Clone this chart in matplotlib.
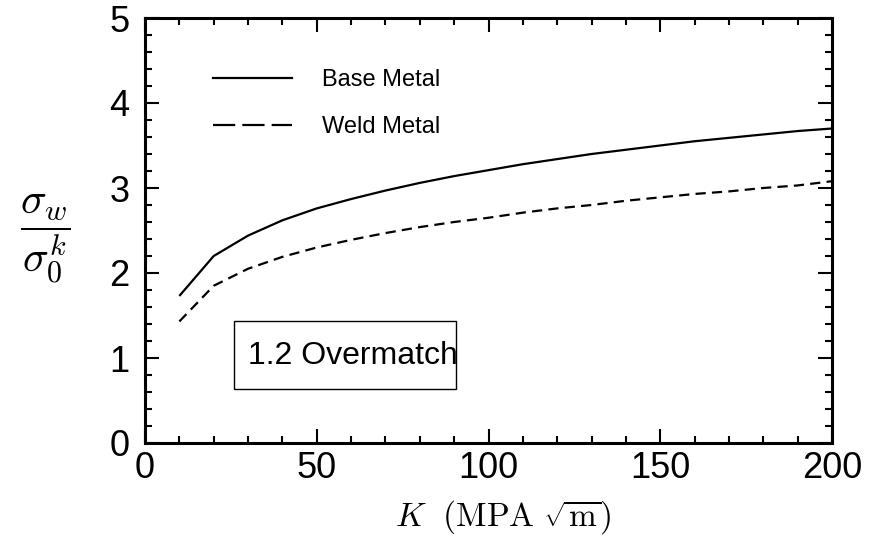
import matplotlib
matplotlib.use("Agg")
import matplotlib.pyplot as plt
from matplotlib.lines import Line2D
from matplotlib.patches import Rectangle
from matplotlib.ticker import MultipleLocator

plt.rcParams['font.family'] = ['Liberation Sans', 'DejaVu Sans']
plt.rcParams['mathtext.fontset'] = 'cm'

K = [10, 20, 30, 40, 50, 60, 70, 80, 90, 100, 110, 120, 130, 140, 150, 160, 170, 180, 190, 200]
base_metal = [1.73, 2.20, 2.44, 2.62, 2.76, 2.87, 2.97, 3.06, 3.14, 3.21, 3.28, 3.34, 3.40, 3.45,
              3.50, 3.55, 3.59, 3.63, 3.67, 3.70]
weld_metal = [1.43, 1.85, 2.05, 2.19, 2.30, 2.39, 2.47, 2.54, 2.60, 2.65, 2.71, 2.76, 2.80, 2.85,
              2.89, 2.93, 2.96, 3.00, 3.03, 3.08]
labels = ["Base Metal", "Weld Metal"]
annotation = "1.2 Overmatch"

fig = plt.figure(figsize=(8.8, 5.44), dpi=100)
ax = fig.add_axes([145/880, 101/544, 687/880, 425/544])

ax.plot(K, base_metal, color='black', lw=1.6, solid_capstyle='butt')
ax.plot(K, weld_metal, color='black', lw=1.6, dashes=(4.6, 2.8))

ax.set_xlim(0, 200)
ax.set_ylim(0, 5)
ax.xaxis.set_major_locator(MultipleLocator(50))
ax.xaxis.set_minor_locator(MultipleLocator(10))
ax.yaxis.set_major_locator(MultipleLocator(1))
ax.yaxis.set_minor_locator(MultipleLocator(0.2))
ax.tick_params(which='both', direction='in', top=True, right=True, width=1.5, labelsize=26)
ax.tick_params(axis='x', which='major', length=10, pad=6)
ax.tick_params(axis='y', which='major', length=10, pad=11)
ax.tick_params(which='minor', length=5)
for s in ax.spines.values():
    s.set_linewidth(2.2)

ax.set_xlabel(r"$K\ \ (\mathrm{MPA}\ \sqrt{\mathrm{m}})$", fontsize=24)
ax.xaxis.set_label_coords(0.522, -0.13)
ax.set_ylabel(r"$\dfrac{\sigma_w}{\sigma_0^k}$", fontsize=31, rotation=0, va='center', ha='center')
ax.yaxis.set_label_coords(-0.145, 0.48)

handles = [Line2D([], [], color='black', lw=1.6),
           Line2D([], [], color='black', lw=1.6, dashes=(10.0, 3.2))]
ax.legend(handles, labels, loc='upper left', bbox_to_anchor=(0.0675, 0.93), frameon=False,
          fontsize=17, handlelength=3.35, handletextpad=1.27, labelspacing=1.05)

ax.add_patch(Rectangle((26, 0.63), 64.5, 0.8, fill=False, edgecolor='black', lw=1.0))
ax.text(30, 1.02, annotation, fontsize=23, va='center', ha='left')

fig.savefig("out.png", dpi=100)
